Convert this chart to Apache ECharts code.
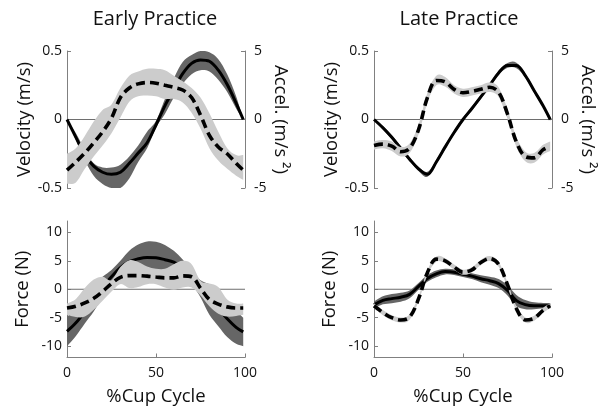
<!DOCTYPE html>
<html><head><meta charset="utf-8">
<script src="https://cdn.jsdelivr.net/npm/echarts@6/dist/echarts.min.js"></script>
<style>html,body{margin:0;padding:0;background:#fff}#c{width:611px;height:408px}</style>
</head><body><div id="c"></div>
<script>
// %Cup Cycle sample positions
const cycle = [0,5,10,15,20,25,30,35,40,45,50,55,60,65,70,75,80,85,90,95,99];
const xTicks = [0, 50, 100];
const forceTicks = [-10, -5, 0, 5, 10];
const titles = ['Early Practice', 'Late Practice'];

// Early practice: velocity (m/s) mean and band edges
const earlyVel   = [0,-0.13,-0.26,-0.34,-0.385,-0.40,-0.385,-0.32,-0.245,-0.17,-0.04,0.10,0.22,0.335,0.41,0.435,0.425,0.36,0.255,0.12,0];
const earlyVelHi = [0,-0.10,-0.22,-0.32,-0.35,-0.35,-0.33,-0.27,-0.19,-0.09,-0.01,0.15,0.30,0.42,0.47,0.50,0.49,0.44,0.33,0.17,0];
const earlyVelLo = [0,-0.15,-0.30,-0.41,-0.47,-0.50,-0.50,-0.43,-0.31,-0.21,-0.06,0.04,0.16,0.26,0.33,0.36,0.35,0.29,0.20,0.08,0];
// Early practice: acceleration (m/s^2)
const earlyAcc   = [-3.7,-3.1,-2.45,-1.7,-0.9,0.1,1.6,2.3,2.6,2.7,2.65,2.5,2.35,2.15,1.6,0.32,-1.15,-2.0,-2.5,-3.2,-3.7];
const earlyAccHi = [-2.5,-2.1,-1.2,-0.15,0.7,1.1,2.3,3.2,3.5,3.7,3.7,3.6,3.2,2.8,2.3,1.6,0.45,-0.9,-2.1,-2.6,-2.6];
const earlyAccLo = [-4.7,-4.6,-3.6,-2.7,-1.9,-1.0,0.15,1.3,1.7,1.75,1.7,1.5,1.5,1.25,0.5,-0.66,-2.1,-3.0,-3.6,-4.1,-4.4];
// Late practice: velocity and acceleration with SD
const lateVel   = [0,-0.06,-0.13,-0.21,-0.29,-0.36,-0.40,-0.31,-0.20,-0.095,0,0.08,0.165,0.25,0.34,0.395,0.395,0.32,0.21,0.10,0];
const lateVelSd = [0.01,0.015,0.015,0.015,0.015,0.015,0.018,0.015,0.015,0.015,0.015,0.015,0.015,0.015,0.015,0.018,0.02,0.015,0.015,0.012,0.01];
const lateAcc   = [-1.9,-1.8,-1.95,-2.35,-2.1,-0.75,1.6,2.85,2.75,2.2,1.95,2.05,2.2,2.35,2.0,0.4,-1.65,-2.7,-2.8,-2.2,-1.95];
const lateAccSd = [0.3,0.3,0.35,0.35,0.35,0.35,0.35,0.35,0.35,0.3,0.3,0.3,0.3,0.35,0.35,0.35,0.35,0.35,0.35,0.35,0.35];
// Force (N): solid and dashed traces
const earlyForce     = [-7.4,-5.9,-3.9,-1.6,0.4,2.2,3.8,4.85,5.35,5.6,5.55,5.2,4.75,3.75,2.1,0.1,-1.8,-3.4,-5.2,-6.7,-7.5];
const earlyForceSd   = [2.6,2.3,2.1,2.3,1.8,1.2,1.2,1.9,2.5,2.8,2.8,2.6,2.0,1.5,1.2,1.5,2.7,3.1,3.2,2.9,2.5];
const earlyForceD    = [-3.3,-3.0,-2.4,-1.6,-0.4,1.0,2.1,2.4,2.4,2.3,2.15,2.0,2.0,2.35,2.2,0.2,-1.8,-2.6,-3.1,-3.3,-3.3];
const earlyForceDHi  = [-2.5,-1.7,0.2,1.7,2.2,1.6,3.9,5.1,4.8,4.0,3.6,3.6,4.4,5.0,4.4,1.5,1.0,0.4,-1.8,-2.5,-2.5];
const earlyForceDLo  = [-4.5,-4.9,-4.8,-3.6,-2.0,-0.4,0.9,0.2,0.4,0.9,0.9,0.3,-0.1,0.3,0.3,-1.1,-3.0,-4.3,-4.8,-4.7,-4.5];
const lateForce      = [-2.75,-1.95,-1.65,-1.4,-0.9,0.5,1.9,2.7,3.1,3.0,2.65,2.3,1.85,1.5,1.0,-0.2,-2.0,-2.7,-2.9,-2.9,-2.9];
const lateForceSd    = [0.6,0.7,0.8,0.8,0.7,0.6,0.6,0.6,0.5,0.5,0.5,0.5,0.6,0.7,0.8,0.9,1.0,0.8,0.6,0.5,0.5];
const lateForceD     = [-2.9,-4.1,-5.0,-5.4,-4.9,-1.7,2.9,5.3,5.0,3.9,3.0,3.4,4.7,5.4,4.4,0.8,-3.4,-5.4,-5.1,-3.7,-2.9];
const lateForceDSd   = [0.45,0.45,0.45,0.45,0.45,0.45,0.45,0.45,0.45,0.45,0.45,0.45,0.45,0.45,0.45,0.45,0.45,0.45,0.45,0.45,0.45];

const FONT = '"Open Sans", "Noto Sans", sans-serif';
const TXT = '#111';
const AX = '#808080';
const DARK = '#666666';
const LIGHT = '#cccccc';
const SM = 0.35;

const pairs = ys => cycle.map((t, i) => [t, ys[i]]);
const add = (a, b, s) => a.map((v, i) => v + s * b[i]);

// smooth path segment through pixel points (Catmull-Rom as cubic Beziers)
function curveCmds(pts, k) {
  let d = '';
  const n = pts.length;
  for (let i = 0; i < n - 1; i++) {
    const p0 = pts[Math.max(i - 1, 0)], p1 = pts[i], p2 = pts[i + 1], p3 = pts[Math.min(i + 2, n - 1)];
    const c1 = [p1[0] + (p2[0] - p0[0]) * k / 6, p1[1] + (p2[1] - p0[1]) * k / 6];
    const c2 = [p2[0] - (p3[0] - p1[0]) * k / 6, p2[1] - (p3[1] - p1[1]) * k / 6];
    d += ' C' + c1[0] + ' ' + c1[1] + ' ' + c2[0] + ' ' + c2[1] + ' ' + p2[0] + ' ' + p2[1];
  }
  return d;
}

function band(g, y, lo, hi, color, z) {
  return {
    type:'custom', xAxisIndex:g, yAxisIndex:y, silent:true, clip:true, z:z,
    data:cycle.map((t, i) => [t, lo[i], hi[i]]),
    encode:{x:0, y:[1, 2]},
    renderItem:function (params, api) {
      if (params.dataIndexInside !== 0) return null;
      const n = params.dataInsideLength;
      const up = [], dn = [];
      for (let j = 0; j < n; j++) {
        const t = api.value(0, j);
        up.push(api.coord([t, api.value(2, j)]));
        dn.push(api.coord([t, api.value(1, j)]));
      }
      dn.reverse();
      const d = 'M' + up[0][0] + ' ' + up[0][1] + curveCmds(up, 1) +
                ' L' + dn[0][0] + ' ' + dn[0][1] + curveCmds(dn, 1) + ' Z';
      return {type:'path', shape:{pathData:d}, style:{fill:color, stroke:null}};
    }
  };
}
function solid(g, y, ys) {
  return {type:'line', xAxisIndex:g, yAxisIndex:y, data:pairs(ys), smooth:SM, symbol:'none', silent:true, z:3,
          lineStyle:{color:'#000', width:3}};
}
function dashed(g, y, ys) {
  return {type:'line', xAxisIndex:g, yAxisIndex:y, data:pairs(ys), smooth:SM, symbol:'none', silent:true, z:5,
          lineStyle:{color:'#000', width:3.6, type:[9,5], cap:'butt'}};
}
function zero(g, y) {
  return {type:'line', xAxisIndex:g, yAxisIndex:y, data:[[0,0],[100,0]], symbol:'none', silent:true, z:1,
          lineStyle:{color:'#6e6e6e', width:1}};
}

const labelStyle = {color:TXT, fontSize:14, fontFamily:FONT};
const nameStyle = {color:TXT, fontSize:18.5, fontFamily:FONT};

const grids = [
  {left:67, top:51, width:178, height:137},
  {left:374, top:51, width:178, height:137},
  {left:67, top:221, width:178, height:136.5},
  {left:374, top:221, width:178, height:136.5}
];

const xAxes = [0,1,2,3].map(g => g < 2 ? {gridIndex:g, type:'value', min:0, max:100, show:false} : {
  gridIndex:g, type:'value', min:0, max:100, interval:50,
  axisLine:{show:true, onZero:false, lineStyle:{color:AX, width:1}},
  axisTick:{show:true, inside:true, length:4, lineStyle:{color:AX}, customValues:xTicks},
  axisLabel:Object.assign({margin:9, customValues:xTicks}, labelStyle),
  splitLine:{show:false},
  name:'%Cup Cycle', nameLocation:'middle', nameGap:30, nameTextStyle:nameStyle
});

function velAxis(g) {
  return {gridIndex:g, type:'value', position:'left', min:-0.5, max:0.5, interval:0.5,
    axisLine:{show:true, lineStyle:{color:AX, width:1}},
    axisTick:{show:true, inside:true, length:4, lineStyle:{color:AX}},
    axisLabel:Object.assign({margin:5}, labelStyle), splitLine:{show:false},
    name:'Velocity (m/s)', nameLocation:'middle', nameRotate:90, nameGap:33, nameTextStyle:nameStyle};
}
function accAxis(g) {
  return {gridIndex:g, type:'value', position:'right', min:-5, max:5, interval:5,
    axisLine:{show:true, lineStyle:{color:AX, width:1}},
    axisTick:{show:true, inside:true, length:4, lineStyle:{color:AX}},
    axisLabel:Object.assign({margin:9}, labelStyle), splitLine:{show:false},
    name:'Accel. (m/s \u00b2)', nameLocation:'middle', nameRotate:-90, nameGap:26, nameTextStyle:nameStyle};
}
function forceAxis(g) {
  return {gridIndex:g, type:'value', position:'left', min:-12, max:12,
    axisLine:{show:true, onZero:false, lineStyle:{color:AX, width:1}},
    axisTick:{show:true, inside:true, length:4, lineStyle:{color:AX}, customValues:forceTicks},
    axisLabel:Object.assign({margin:5, customValues:forceTicks}, labelStyle), splitLine:{show:false},
    name:'Force (N)', nameLocation:'middle', nameRotate:90, nameGap:35, nameTextStyle:nameStyle};
}
const yAxes = [velAxis(0), accAxis(0), velAxis(1), accAxis(1), forceAxis(2), forceAxis(3)];

// drawing order: zero line, solid-trace band, solid trace, dashed-trace band, dashed trace
const series = [
  // Early practice, kinematics
  zero(0,0),
  band(0,0,earlyVelLo,earlyVelHi,DARK,2),
  solid(0,0,earlyVel),
  band(0,1,earlyAccLo,earlyAccHi,LIGHT,4),
  dashed(0,1,earlyAcc),
  // Late practice, kinematics
  zero(1,2),
  band(1,2,add(lateVel,lateVelSd,-1),add(lateVel,lateVelSd,1),DARK,2),
  solid(1,2,lateVel),
  band(1,3,add(lateAcc,lateAccSd,-1),add(lateAcc,lateAccSd,1),LIGHT,4),
  dashed(1,3,lateAcc),
  // Early practice, force
  zero(2,4),
  band(2,4,add(earlyForce,earlyForceSd,-1),add(earlyForce,earlyForceSd,1),DARK,2),
  solid(2,4,earlyForce),
  band(2,4,earlyForceDLo,earlyForceDHi,LIGHT,4),
  dashed(2,4,earlyForceD),
  // Late practice, force
  zero(3,5),
  band(3,5,add(lateForce,lateForceSd,-1),add(lateForce,lateForceSd,1),DARK,2),
  solid(3,5,lateForce),
  band(3,5,add(lateForceD,lateForceDSd,-1),add(lateForceD,lateForceDSd,1),LIGHT,4),
  dashed(3,5,lateForceD)
];

const chart = echarts.init(document.getElementById('c'), null, {renderer:'canvas', width:611, height:408});
chart.setOption({
  animation:false,
  backgroundColor:'#fff',
  grid:grids,
  xAxis:xAxes,
  yAxis:yAxes,
  series:series,
  graphic:[
    {type:'text', x:155, y:19, silent:true, style:{text:titles[0], font:'20px ' + FONT, fill:TXT,
      align:'center', verticalAlign:'middle', textAlign:'center', textVerticalAlign:'middle'}},
    {type:'text', x:459, y:19, silent:true, style:{text:titles[1], font:'20px ' + FONT, fill:TXT,
      align:'center', verticalAlign:'middle', textAlign:'center', textVerticalAlign:'middle'}}
  ]
});
</script></body></html>
